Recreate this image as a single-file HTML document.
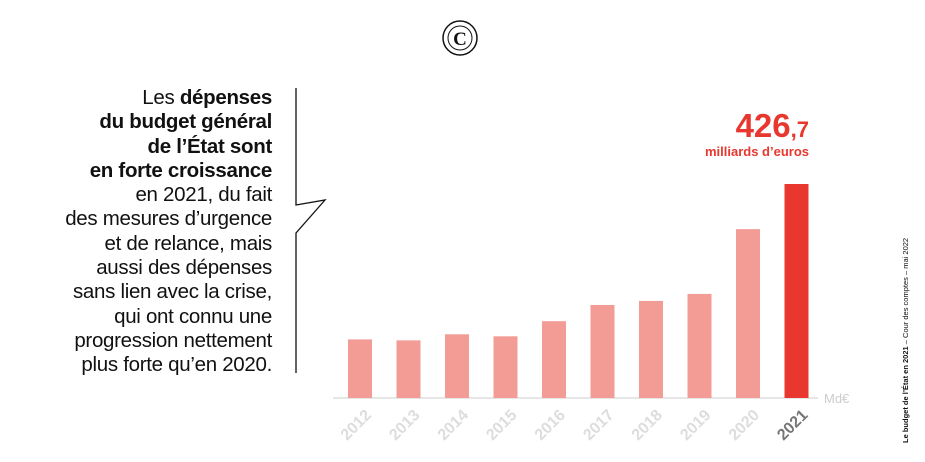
<!DOCTYPE html>
<html><head><meta charset="utf-8">
<style>
body{margin:0;width:925px;height:462px;background:#fff;overflow:hidden;font-family:"Liberation Sans",sans-serif;}
#txt{position:absolute;right:653px;top:86px;text-align:right;font-size:20.5px;line-height:24.3px;color:#111;letter-spacing:-0.3px;white-space:nowrap}
#txt b{font-weight:bold}
</style></head><body>
<svg width="925" height="462" style="position:absolute;left:0;top:0">
 <g>
  <circle cx="460" cy="38" r="17" fill="none" stroke="#111" stroke-width="1.5"/>
  <circle cx="460" cy="38" r="12" fill="none" stroke="#111" stroke-width="1"/>
  <text x="460" y="45" text-anchor="middle" font-family="Liberation Serif" font-size="19" font-weight="bold" fill="#111">C</text>
 </g>
 <path d="M296 88 V205 L325 200 L296 233 V373" fill="none" stroke="#111" stroke-width="1.3"/>
 <line x1="333" x2="818" y1="398" y2="398" stroke="#ddd" stroke-width="1.5"/>
 <text x="824" y="403" font-size="13" fill="#ccc">Md€</text>
 <g id="bars"></g>
 <text x="809" y="137" text-anchor="end" font-size="33" font-weight="bold" fill="#e8372e">426<tspan font-size="22">,7</tspan></text>
 <text x="809" y="156" text-anchor="end" font-size="13" font-weight="bold" fill="#e8372e">milliards d’euros</text>
 <text transform="translate(908,443) rotate(-90)" font-size="7.5" fill="#111"><tspan font-weight="bold">Le budget de l’État en 2021</tspan> – Cour des comptes – mai 2022</text>
</svg>
<div id="txt">Les <b>dépenses</b><br><b>du budget général</b><br><b>de l’État sont</b><br><b>en forte croissance</b><br>en 2021, du fait<br>des mesures d’urgence<br>et de relance, mais<br>aussi des dépenses<br>sans lien avec la crise,<br>qui ont connu une<br>progression nettement<br>plus forte qu’en 2020.</div>
<script>
const years=["2012","2013","2014","2015","2016","2017","2018","2019","2020","2021"];
const values=[296.2,295.4,300.5,298.8,311.5,325.1,328.5,334.4,388.8,426.7];
const yMin=247, base=398, pxPer=214/(426.7-247);
function y(v){return base-(v-yMin)*pxPer;}
function x(i){return 348+i*48.5;}
const g=document.getElementById('bars');const NS="http://www.w3.org/2000/svg";
years.forEach((yr,i)=>{
 const r=document.createElementNS(NS,'rect');
 r.setAttribute('x',x(i));r.setAttribute('width',24);
 r.setAttribute('y',y(values[i]));r.setAttribute('height',base-y(values[i]));
 r.setAttribute('fill',i==years.length-1?'#e8372e':'#f39b95');
 
 
 g.appendChild(r);
 const t=document.createElementNS(NS,'text');
 const cx=x(i)+8, cy=430;
 t.setAttribute('x',cx);t.setAttribute('y',cy);t.setAttribute('text-anchor','middle');
 t.setAttribute('transform','rotate(-45 '+cx+' '+(cy-5)+')');
 t.setAttribute('font-size','16');t.setAttribute('font-weight','bold');
 t.setAttribute('fill',i==years.length-1?'#777':'#ddd');
 t.textContent=yr;
 
 
 g.appendChild(t);
});
</script>
</body></html>
